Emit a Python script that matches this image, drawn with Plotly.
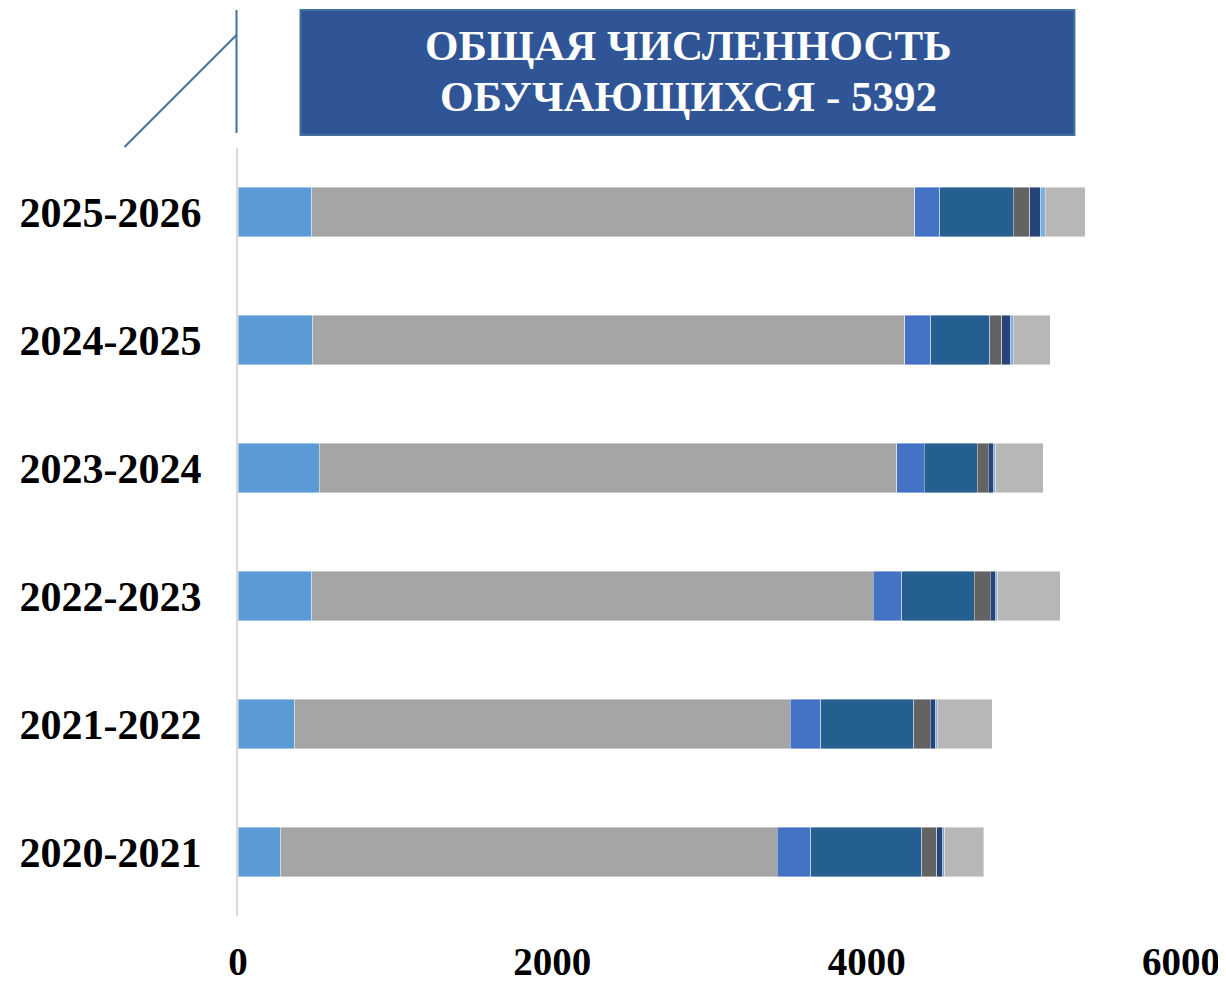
import plotly.graph_objects as go

years = ["2020-2021", "2021-2022", "2022-2023", "2023-2024", "2024-2025", "2025-2026"]

seg1 = [271, 360, 468, 517, 475, 470]
seg2 = [3159, 3153, 3575, 3673, 3766, 3837]
seg3 = [215, 196, 181, 176, 168, 157]
seg4 = [704, 590, 462, 336, 373, 469]
seg5 = [98, 104, 100, 70, 76, 104]
seg6 = [36, 34, 34, 36, 57, 66]
seg7 = [15, 13, 13, 13, 19, 34]
seg8 = [248, 348, 399, 302, 234, 255]

series = [seg1, seg2, seg3, seg4, seg5, seg6, seg7, seg8]
colors = ["#5B9BD5", "#A5A5A5", "#4472C4", "#255E91", "#636363", "#264478", "#7CAFDD", "#B7B7B7"]

title_lines = ["ОБЩАЯ ЧИСЛЕННОСТЬ", "ОБУЧАЮЩИХСЯ - 5392"]
x_ticks = [0, 2000, 4000, 6000]

fig = go.Figure()
for vals, col in zip(series, colors):
    fig.add_trace(go.Bar(
        y=years, x=vals, orientation="h",
        marker=dict(color=col, line=dict(color="rgba(255,255,255,0.55)", width=0.75)),
        width=0.39, showlegend=False, hoverinfo="x+y",
    ))

OFF = 8  # page body margin
W, H = 1226 - OFF, 984 - OFF
# plot area in page pixels
PL, PR, PT, PB = 237.5, 1180.6, 148, 916
L = PL - OFF
T = PT - OFF
R = W - (PR - OFF)
B = H - (PB - OFF)
pw, ph = PR - PL, PB - PT

def px(x):
    return (x - PL) / pw

def py(y):
    return (PB - y) / ph

line_col = "#41719C"
shapes = [
    dict(type="line", xref="paper", yref="paper", x0=px(236), x1=px(236), y0=py(10), y1=py(133),
         line=dict(color=line_col, width=2)),
    dict(type="line", xref="paper", yref="paper", x0=px(236), x1=px(124), y0=py(35), y1=py(147),
         line=dict(color=line_col, width=2)),
    dict(type="rect", xref="paper", yref="paper", x0=px(300), x1=px(1074), y0=py(135), y1=py(10),
         fillcolor="#2F5597", line=dict(color=line_col, width=2)),
]

annotations = []
for txt, yc in zip(title_lines, [45, 96]):
    annotations.append(dict(
        text="<b>%s</b>" % txt, xref="paper", yref="paper", x=px(688), y=py(yc),
        xanchor="center", yanchor="middle", showarrow=False,
        font=dict(family="Liberation Serif", size=43, color="white"),
    ))

fig.update_layout(
    width=W, height=H,
    margin=dict(l=L, r=R, t=T, b=B, pad=0, autoexpand=False),
    barmode="stack",
    plot_bgcolor="white", paper_bgcolor="white",
    shapes=shapes, annotations=annotations,
    font=dict(family="Liberation Serif", color="black"),
)
fig.update_xaxes(
    range=[0, 6000], tickvals=x_ticks, ticktext=["<b>%d</b>" % v for v in x_ticks],
    showgrid=False, zeroline=False, showline=False, automargin=False,
    tickfont=dict(family="Liberation Serif", size=39, color="black"),
    ticks="outside", ticklen=0, ticklabelstandoff=11,
)
fig.update_yaxes(
    categoryorder="array", categoryarray=years,
    tickvals=years, ticktext=["<b>%s</b>" % y for y in years],
    showgrid=False, zeroline=False, showline=True, linecolor="#D9D9D9", linewidth=2,
    automargin=False,
    tickfont=dict(family="Liberation Serif", size=42, color="black"),
    ticks="outside", ticklen=0, ticklabelstandoff=26,
)

fig.write_html("out.html")
